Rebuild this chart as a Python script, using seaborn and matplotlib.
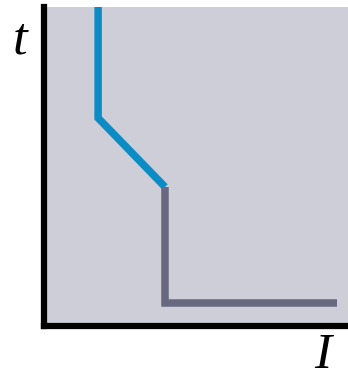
import matplotlib
matplotlib.use('Agg')
import matplotlib.pyplot as plt
import seaborn as sns

# curva tempo-corrente: trecho azul (rele) e trecho cinza (instantaneo)
i_azul = [1.78, 1.78, 3.98]
t_azul = [10.0, 6.52, 4.36]
i_cinza = [3.98, 3.98, 9.64]
t_cinza = [4.36, 0.72, 0.72]

sns.set_style('white')

fig = plt.figure(figsize=(3.48, 3.80), dpi=100)
ax = fig.add_axes([44 / 348, (380 - 326) / 380, 304 / 348, 319 / 380])
ax.set_facecolor('#cdced8')

sns.lineplot(x=i_azul, y=t_azul, sort=False, estimator=None, ax=ax,
             color='#0b8cc4', linewidth=5.4, solid_capstyle='butt',
             solid_joinstyle='miter')
sns.lineplot(x=i_cinza, y=t_cinza, sort=False, estimator=None, ax=ax,
             color='#686880', linewidth=5.4, solid_capstyle='butt',
             solid_joinstyle='miter')

ax.set_xlim(0, 10)
ax.set_ylim(0, 10)
ax.set_xticks([])
ax.set_yticks([])
for lado in ['top', 'right']:
    ax.spines[lado].set_visible(False)
for lado in ['left', 'bottom']:
    ax.spines[lado].set_color('black')
    ax.spines[lado].set_linewidth(4.5)

fig.text(20 / 348, 1 - 54 / 380, 't', fontsize=38, style='italic',
         family='Liberation Serif', color='black', ha='center', va='baseline')
fig.text(323 / 348, 1 - 368 / 380, 'I', fontsize=37, style='italic',
         family='Liberation Serif', color='black', ha='center', va='baseline')

fig.savefig('out.png', dpi=100)
